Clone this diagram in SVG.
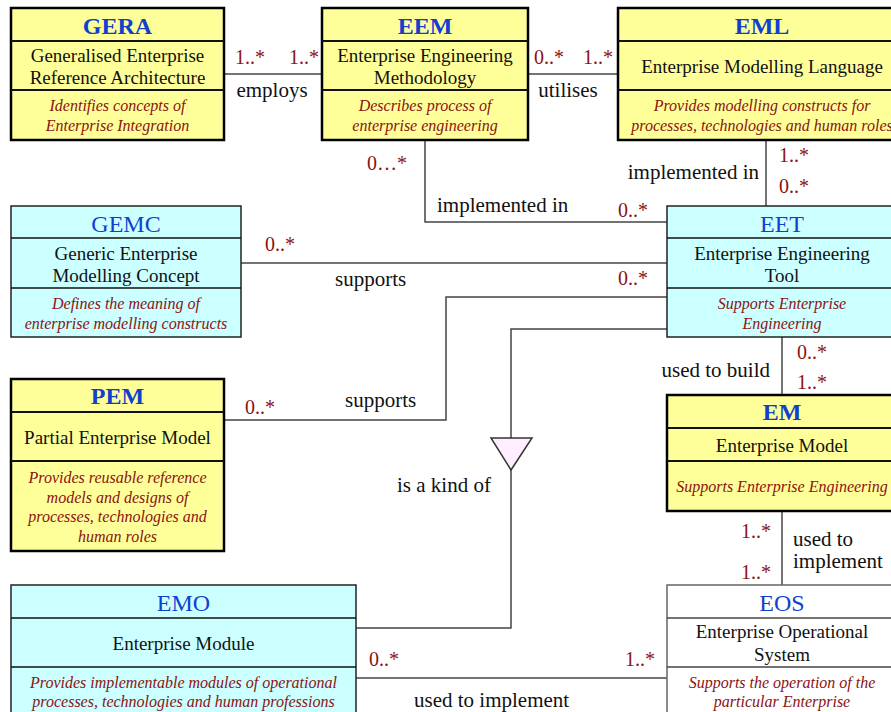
<svg xmlns="http://www.w3.org/2000/svg" width="891" height="712" viewBox="0 0 891 712">
<style>
text{font-family:"Liberation Serif","Times New Roman",serif;}
.box{stroke:#000;}
.thick{stroke-width:2.5;}
.thin{stroke-width:1.5;stroke:#222;}
.yel{fill:#ffff99;}
.cyn{fill:#ccffff;}
.wht{fill:#fff;stroke:#666;stroke-width:1.5;}
.div{stroke:#111;fill:none;}
.title{font-size:24px;fill:#1040d0;text-anchor:middle;}
.bold{font-weight:bold;}
.name{font-size:19px;fill:#111;text-anchor:middle;}
.desc{font-size:16px;fill:#8b1212;font-style:italic;text-anchor:middle;}
.card{font-size:20px;fill:#8b1212;}
.lbl{font-size:21px;fill:#111;}
.conn{stroke:#444;stroke-width:1.5;fill:none;}
</style>

<g id="connectors">
  <line class="conn" x1="224" y1="74" x2="322" y2="74"/>
  <line class="conn" x1="528" y1="74" x2="618" y2="74"/>
  <polyline class="conn" points="425,140 425,222 667,222"/>
  <line class="conn" x1="766" y1="140" x2="766" y2="206"/>
  <line class="conn" x1="241" y1="263" x2="667" y2="263"/>
  <polyline class="conn" points="667,297 446,297 446,420 224,420"/>
  <polyline class="conn" points="667,329 511,329 511,438"/>
  <polygon points="491,438 532,438 511,470" fill="#ffeeff" stroke="#333" stroke-width="1.5"/>
  <polyline class="conn" points="511,470 511,628 356,628"/>
  <line class="conn" x1="782" y1="337" x2="782" y2="395"/>
  <line class="conn" x1="782" y1="511" x2="782" y2="585"/>
  <line class="conn" x1="356" y1="678" x2="667" y2="678"/>

  <text class="card" x="235" y="64">1..*</text>
  <text class="card" x="289" y="64">1..*</text>
  <text class="lbl" x="272" y="97" text-anchor="middle">employs</text>
  <text class="card" x="534" y="64">0..*</text>
  <text class="card" x="583" y="64">1..*</text>
  <text class="lbl" x="568" y="97" text-anchor="middle">utilises</text>
  <text class="card" x="367" y="170">0…*</text>
  <text class="lbl" x="437" y="212">implemented in</text>
  <text class="card" x="618" y="217">0..*</text>
  <text class="lbl" x="759" y="179" text-anchor="end">implemented in</text>
  <text class="card" x="779" y="162">1..*</text>
  <text class="card" x="779" y="193">0..*</text>
  <text class="card" x="265" y="251">0..*</text>
  <text class="lbl" x="335" y="286">supports</text>
  <text class="card" x="618" y="285">0..*</text>
  <text class="card" x="245" y="414">0..*</text>
  <text class="lbl" x="345" y="407">supports</text>
  <text class="lbl" x="397" y="492">is a kind of</text>
  <text class="lbl" x="770" y="377" text-anchor="end">used to build</text>
  <text class="card" x="797" y="359">0..*</text>
  <text class="card" x="797" y="389">1..*</text>
  <text class="card" x="771" y="538" text-anchor="end">1..*</text>
  <text class="card" x="771" y="579" text-anchor="end">1..*</text>
  <text class="lbl" x="793" y="546" font-size="19">used to</text>
  <text class="lbl" x="793" y="568" font-size="19">implement</text>
  <text class="card" x="369" y="666">0..*</text>
  <text class="card" x="625" y="666">1..*</text>
  <text class="lbl" x="414" y="707">used to implement</text>
</g>

<g id="GERA">
  <rect class="box thick yel" x="11" y="8" width="213" height="132"/>
  <line class="div" stroke-width="2" x1="11" y1="41" x2="224" y2="41"/>
  <line class="div" stroke-width="2" x1="11" y1="90" x2="224" y2="90"/>
  <text class="title bold" x="117.5" y="34">GERA</text>
  <text class="name" x="117.5" y="62">Generalised Enterprise</text>
  <text class="name" x="117.5" y="84">Reference Architecture</text>
  <text class="desc" x="117.5" y="111">Identifies concepts of</text>
  <text class="desc" x="117.5" y="131">Enterprise Integration</text>
</g>

<g id="EEM">
  <rect class="box thick yel" x="322" y="8" width="206" height="132"/>
  <line class="div" stroke-width="2" x1="322" y1="41" x2="528" y2="41"/>
  <line class="div" stroke-width="2" x1="322" y1="90" x2="528" y2="90"/>
  <text class="title bold" x="425" y="34">EEM</text>
  <text class="name" x="425" y="62">Enterprise Engineering</text>
  <text class="name" x="425" y="84">Methodology</text>
  <text class="desc" x="425" y="111">Describes process of</text>
  <text class="desc" x="425" y="131">enterprise engineering</text>
</g>

<g id="EML">
  <rect class="box thick yel" x="618" y="8" width="290" height="132"/>
  <line class="div" stroke-width="2" x1="618" y1="41" x2="908" y2="41"/>
  <line class="div" stroke-width="2" x1="618" y1="90" x2="908" y2="90"/>
  <text class="title bold" x="762" y="34">EML</text>
  <text class="name" x="762" y="73">Enterprise Modelling Language</text>
  <text class="desc" x="762" y="111">Provides modelling constructs for</text>
  <text class="desc" x="762" y="131">processes, technologies and human roles</text>
</g>

<g id="GEMC">
  <rect class="box thin cyn" x="11" y="206" width="230" height="131"/>
  <line class="div" stroke-width="1.5" x1="11" y1="238" x2="241" y2="238"/>
  <line class="div" stroke-width="1.5" x1="11" y1="288" x2="241" y2="288"/>
  <text class="title" x="126" y="232">GEMC</text>
  <text class="name" x="126" y="260">Generic Enterprise</text>
  <text class="name" x="126" y="282">Modelling Concept</text>
  <text class="desc" x="126" y="309">Defines the meaning of</text>
  <text class="desc" x="126" y="329">enterprise modelling constructs</text>
</g>

<g id="EET">
  <rect class="box thin cyn" x="667" y="206" width="230" height="131"/>
  <line class="div" stroke-width="1.5" x1="667" y1="238" x2="897" y2="238"/>
  <line class="div" stroke-width="1.5" x1="667" y1="288" x2="897" y2="288"/>
  <text class="title" x="782" y="232">EET</text>
  <text class="name" x="782" y="260">Enterprise Engineering</text>
  <text class="name" x="782" y="282">Tool</text>
  <text class="desc" x="782" y="309">Supports Enterprise</text>
  <text class="desc" x="782" y="329">Engineering</text>
</g>

<g id="PEM">
  <rect class="box thick yel" x="11" y="379" width="213" height="172"/>
  <line class="div" stroke-width="2" x1="11" y1="412" x2="224" y2="412"/>
  <line class="div" stroke-width="2" x1="11" y1="461" x2="224" y2="461"/>
  <text class="title bold" x="117.5" y="404">PEM</text>
  <text class="name" x="117.5" y="444">Partial Enterprise Model</text>
  <text class="desc" x="117.5" y="483">Provides reusable reference</text>
  <text class="desc" x="117.5" y="503">models and designs of</text>
  <text class="desc" x="117.5" y="522">processes, technologies and</text>
  <text class="desc" x="117.5" y="542">human roles</text>
</g>

<g id="EM">
  <rect class="box thick yel" x="667" y="395" width="230" height="116"/>
  <line class="div" stroke-width="2" x1="667" y1="428" x2="897" y2="428"/>
  <line class="div" stroke-width="2" x1="667" y1="461" x2="897" y2="461"/>
  <text class="title bold" x="782" y="420">EM</text>
  <text class="name" x="782" y="452">Enterprise Model</text>
  <text class="desc" x="782" y="492">Supports Enterprise Engineering</text>
</g>

<g id="EMO">
  <rect class="box thin cyn" x="11" y="585" width="345" height="140"/>
  <line class="div" stroke-width="1.5" x1="11" y1="618" x2="356" y2="618"/>
  <line class="div" stroke-width="1.5" x1="11" y1="667" x2="356" y2="667"/>
  <text class="title" x="183.5" y="611">EMO</text>
  <text class="name" x="183.5" y="650">Enterprise Module</text>
  <text class="desc" x="183.5" y="688">Provides implementable modules of operational</text>
  <text class="desc" x="183.5" y="707">processes, technologies and human professions</text>
</g>

<g id="EOS">
  <rect class="wht" x="667" y="585" width="230" height="140"/>
  <line stroke="#444" stroke-width="1.5" x1="667" y1="618" x2="897" y2="618"/>
  <line stroke="#444" stroke-width="1.5" x1="667" y1="667" x2="897" y2="667"/>
  <text class="title" x="782" y="611">EOS</text>
  <text class="name" x="782" y="638">Enterprise Operational</text>
  <text class="name" x="782" y="661">System</text>
  <text class="desc" x="782" y="688">Supports the operation of the</text>
  <text class="desc" x="782" y="707">particular Enterprise</text>
</g>
</svg>
